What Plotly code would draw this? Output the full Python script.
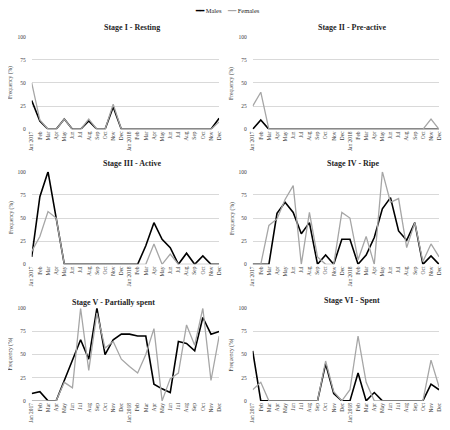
import plotly.graph_objects as go
from plotly.subplots import make_subplots

# Monthly categories, Jan 2017 - Dec 2018
months = ["Jan 2017", "Feb", "Mar", "Apr", "May", "Jun", "Jul", "Aug", "Sep", "Oct", "Nov", "Dec",
          "Jan 2018", "Feb", "Mar", "Apr", "May", "Jun", "Jul", "Aug", "Sep", "Oct", "Nov", "Dec"]
y_ticks = [0, 25, 50, 75, 100]

stage_titles = ["Stage I - Resting", "Stage II - Pre-active", "Stage III - Active",
                "Stage IV - Ripe", "Stage V - Partially spent", "Stage VI - Spent"]

stage_I_males = [31, 9, 0, 0, 11, 0, 0, 9, 0, 0, 24, 0, 0, 0, 0, 0, 0, 0, 0, 0, 0, 0, 0, 12]
stage_I_females = [50, 10, 0, 0, 11, 0, 0, 11, 0, 0, 27, 0, 0, 0, 0, 0, 0, 0, 0, 0, 0, 0, 0, 8]

stage_II_males = [0, 10, 0, 0, 0, 0, 0, 0, 0, 0, 0, 0, 0, 0, 0, 0, 0, 0, 0, 0, 0, 0, 0, 0]
stage_II_females = [25, 40, 0, 0, 0, 0, 0, 0, 0, 0, 0, 0, 0, 0, 0, 0, 0, 0, 0, 0, 0, 0, 11, 0]

stage_III_males = [8, 73, 100, 48, 0, 0, 0, 0, 0, 0, 0, 0, 0, 0, 20, 45, 27, 18, 0, 12, 0, 9, 0, 0]
stage_III_females = [14, 30, 57, 50, 0, 0, 0, 0, 0, 0, 0, 0, 0, 0, 0, 22, 0, 11, 0, 0, 0, 0, 0, 0]

stage_IV_males = [0, 0, 0, 55, 67, 56, 33, 45, 0, 10, 0, 27, 27, 0, 10, 29, 60, 72, 36, 26, 45, 0, 9, 0]
stage_IV_females = [0, 0, 42, 49, 70, 85, 0, 56, 8, 0, 0, 56, 50, 5, 30, 0, 100, 67, 71, 18, 45, 3, 22, 8]

stage_V_males = [8, 10, 0, 0, 22, 45, 66, 45, 100, 50, 66, 72, 72, 70, 70, 18, 13, 9, 64, 62, 54, 90, 72, 75]
stage_V_females = [0, 0, 0, 0, 20, 14, 100, 33, 95, 57, 64, 45, 37, 30, 50, 78, 0, 24, 30, 82, 60, 100, 22, 70]

stage_VI_males = [54, 0, 0, 0, 0, 0, 0, 0, 0, 40, 8, 0, 0, 30, 0, 9, 0, 0, 0, 0, 0, 0, 18, 12]
stage_VI_females = [12, 20, 0, 0, 0, 0, 0, 0, 0, 43, 10, 0, 12, 70, 20, 0, 0, 0, 0, 0, 0, 0, 44, 15]

males = [stage_I_males, stage_II_males, stage_III_males, stage_IV_males, stage_V_males, stage_VI_males]
females = [stage_I_females, stage_II_females, stage_III_females, stage_IV_females, stage_V_females, stage_VI_females]

# page has an 8px body margin, so the figure is a bit smaller and all pixel
# positions below are given in window coordinates minus that offset
OFF = 8
W, H = 450 - OFF, 430 - OFF
FONT = "Liberation Serif"
TXT = "#404040"


def px_x(v):
    return (v - OFF) / W


def px_y(v):
    return 1 - (v - OFF) / H


fig = make_subplots(rows=3, cols=2)

x_idx = list(range(len(months)))
for i in range(6):
    r, c = i // 2 + 1, i % 2 + 1
    fig.add_trace(go.Scatter(x=x_idx, y=males[i], mode="lines", name="Males",
                             line=dict(color="black", width=1.6), showlegend=False),
                  row=r, col=c)
    fig.add_trace(go.Scatter(x=x_idx, y=females[i], mode="lines", name="Females",
                             line=dict(color="#a6a6a6", width=1.3), showlegend=False),
                  row=r, col=c)

# panel geometry in window pixels: (x0, x1) and (ytop, ybottom)
x_cols = [(29, 219), (253, 442)]
y_rows = [(34, 128), (171, 265), (309.5, 403.5)]
ytitle_x = [8, 232]
title_pos = [(131, 25), (354, 25), (131, 163), (355, 163), (112, 304), (354, 302)]

for i in range(6):
    r, c = i // 2 + 1, i % 2 + 1
    x0, x1 = x_cols[c - 1]
    yt, yb = y_rows[r - 1]
    fig.update_xaxes(domain=[px_x(x0), px_x(x1)], range=[0, 23],
                     tickvals=x_idx, ticktext=months, tickangle=-90,
                     tickfont=dict(family=FONT, size=5.5, color=TXT),
                     showgrid=False, zeroline=False, showline=False,
                     ticks="", row=r, col=c)
    fig.update_yaxes(domain=[px_y(yb), px_y(yt)], range=[0, 100],
                     tickvals=y_ticks, showgrid=True, gridcolor="#d9d9d9", gridwidth=0.8,
                     zeroline=False, showline=False, ticks="", ticklabelstandoff=5,
                     tickfont=dict(family=FONT, size=5.5, color=TXT),
                     row=r, col=c)
    fig.add_annotation(text="Frequency (%)", x=px_x(ytitle_x[c - 1]), y=px_y((yt + yb) / 2),
                       xref="paper", yref="paper", showarrow=False, textangle=-90,
                       xanchor="center", yanchor="middle",
                       font=dict(family=FONT, size=5.5, color=TXT))
    tx, ty = title_pos[i]
    fig.add_annotation(text="<b>" + stage_titles[i] + "</b>", x=px_x(tx), y=px_y(ty),
                       xref="paper", yref="paper", showarrow=False,
                       xanchor="center", yanchor="middle",
                       font=dict(family=FONT, size=8, color="#262626"))

# legend drawn as a single text line (short line samples like the original)
legend_text = ('<span style="color:black"><b>━━</b></span> Males'
               '&nbsp;&nbsp;&nbsp;&nbsp;<span style="color:#a6a6a6">━━</span> Females')
fig.add_annotation(text=legend_text, x=px_x(227), y=px_y(7), xref="paper", yref="paper",
                   showarrow=False, xanchor="center", yanchor="middle",
                   font=dict(family=FONT, size=6.5, color="#262626"))

fig.update_layout(
    width=W, height=H,
    margin=dict(l=0, r=0, t=0, b=0),
    plot_bgcolor="white", paper_bgcolor="white",
    font=dict(family=FONT, color=TXT),
    showlegend=False,
)

fig.write_html("out.html")
